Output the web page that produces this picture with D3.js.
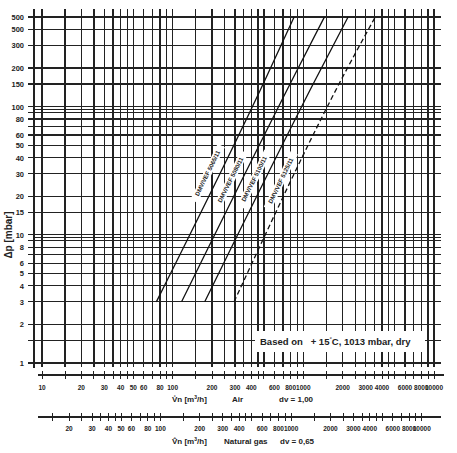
<!DOCTYPE html>
<html>
<head>
<meta charset="UTF-8">
<script src="https://d3js.org/d3.v7.min.js"></script>
<style>
  body { margin: 0; background: #fff; }
  text { font-family: Arial, "Liberation Sans", sans-serif; font-weight: bold; fill: #222; }
</style>
</head>
<body>
<script>
// pressure-drop curves (air, m3/h vs mbar)
const valveNames = ["DMV/VEF 5065/11", "DMV/VEF 5080/11", "DMV/VEF 5100/11", "DMV/VEF 5125/11"];
const valveFlows = [[75, 510, 850], [117, 822, 1450], [176, 1236, 2200], [295, 1950, 3550]];
const valveDp = [[3, 162, 500], [3, 162, 500], [3, 162, 500], [3, 162, 500]];
const dashed = [false, false, false, true];
const labelAt = [220, 330, 500, 800]; // flow where label sits

const yTickLabels = [1, 2, 3, 4, 5, 6, 8, 10, 15, 20, 30, 40, 50, 60, 80, 100, 150, 200, 300, 400, 500];
const yTickText = v => v === 400 ? "500" : String(v);
const airTickLabels = [10, 20, 30, 40, 50, 60, 80, 100, 200, 300, 400, 600, 800, 1000, 2000, 3000, 4000, 6000, 8000, 10000];
const gasTickLabels = [20, 30, 40, 50, 60, 80, 100, 200, 300, 400, 600, 800, 1000, 2000, 3000, 4000, 6000, 8000, 10000];
const mult = [1, 1.5, 2, 2.5, 3, 3.5, 4, 4.5, 5, 6, 7, 8, 9];
const yMult = [1, 1.5, 2, 3, 4, 5, 6, 7, 8, 9];
const gasFactor = Math.sqrt(0.65);

const W = 457, H = 453;
const svg = d3.select("body").append("svg").attr("width", W).attr("height", H);

const x = d3.scaleLog().domain([10, 10000]).range([42, 434]);
const y = d3.scaleLog().domain([1, 500]).range([363, 17]);
const plotTop = 9, plotLeft = 34, plotRight = 441;

const g = svg.append("g").attr("stroke", "#222").attr("shape-rendering", "crispEdges");

// vertical grid
const xGrid = [];
[10, 100, 1000].forEach(d => mult.forEach(m => xGrid.push(d * m)));
xGrid.push(10000);
g.selectAll(".vx").data(xGrid).join("line")
  .attr("x1", d => x(d)).attr("x2", d => x(d))
  .attr("y1", plotTop).attr("y2", 367).attr("stroke-width", 1.2);

// horizontal grid
const yGrid = [];
[1, 10, 100].forEach(d => yMult.forEach(m => yGrid.push(d * m)));
yGrid.push(500);
g.selectAll(".hy").data(yGrid.filter(d => d <= 500)).join("line")
  .attr("x1", plotLeft - 6).attr("x2", plotRight)
  .attr("y1", d => y(d)).attr("y2", d => y(d)).attr("stroke-width", 1.2);
g.selectAll(".hd").data([10, 100]).join("line")
  .attr("x1", plotLeft).attr("x2", plotRight)
  .attr("y1", d => y(d) + 2.5).attr("y2", d => y(d) + 2.5).attr("stroke-width", 1);

// left axis line
g.append("line").attr("x1", plotLeft).attr("x2", plotLeft).attr("y1", plotTop).attr("y2", 368).attr("stroke-width", 2);
svg.selectAll(".yl").data(yTickLabels).join("text")
  .attr("x", 24).attr("y", d => y(d) + 3).attr("text-anchor", "end")
  .attr("font-size", 7.5).text(yTickText);
svg.append("text").attr("transform", "translate(12,235) rotate(-90)")
  .attr("text-anchor", "middle").attr("font-size", 10).attr("font-weight", "normal").text("Δp [mbar]");

// air axis
const airY = 375;
g.append("line").attr("x1", 38).attr("x2", 444).attr("y1", airY).attr("y2", airY).attr("stroke-width", 1.5);
g.selectAll(".at").data(xGrid).join("line")
  .attr("x1", d => x(d)).attr("x2", d => x(d)).attr("y1", airY - 4).attr("y2", airY + 4);
svg.selectAll(".al").data(airTickLabels).join("text")
  .attr("x", d => x(d)).attr("y", 390).attr("text-anchor", "middle").attr("font-size", 6.5).text(d => d);
svg.append("text").attr("x", 172).attr("y", 402).attr("font-size", 8)
  .html('V̊n [m<tspan dy="-3" font-size="5">3</tspan><tspan dy="3">/h]</tspan>');
svg.append("text").attr("x", 232).attr("y", 402).attr("font-size", 8).text("Air");
svg.append("text").attr("x", 279).attr("y", 402).attr("font-size", 8).text("dv = 1,00");

// natural gas axis
const gasY = 417;
const xg = d => x(d * gasFactor);
const gasTicks = xGrid.filter(d => d >= 15 && d <= 10000);
g.append("line").attr("x1", 38).attr("x2", 441).attr("y1", gasY).attr("y2", gasY).attr("stroke-width", 1.5);
g.selectAll(".gt").data(gasTicks).join("line")
  .attr("x1", d => xg(d)).attr("x2", d => xg(d)).attr("y1", gasY - 4).attr("y2", gasY + 4);
svg.selectAll(".gl").data(gasTickLabels).join("text")
  .attr("x", d => xg(d)).attr("y", 431).attr("text-anchor", "middle").attr("font-size", 6.5).text(d => d);
svg.append("text").attr("x", 172).attr("y", 444).attr("font-size", 8)
  .html('V̂n [m<tspan dy="-3" font-size="5">3</tspan><tspan dy="3">/h]</tspan>');
svg.append("text").attr("x", 224).attr("y", 444).attr("font-size", 8).text("Natural gas");
svg.append("text").attr("x", 280).attr("y", 444).attr("font-size", 8).text("dv = 0,65");

// curves
const line = d3.line().x(d => x(d[0])).y(d => y(d[1])).curve(d3.curveMonotoneX);
valveNames.forEach((name, i) => {
  const pts = valveFlows[i].map((f, j) => [f, valveDp[i][j]]);
  svg.append("path").attr("d", line(pts)).attr("fill", "none").attr("stroke", "#111")
    .attr("stroke-width", 1.3).attr("stroke-dasharray", dashed[i] ? "5,3" : null);

  // label parallel to curve, left of it
  const f = labelAt[i];
  const p = pts[0], q = pts[1];
  const k = Math.log(q[1] / p[1]) / Math.log(q[0] / p[0]);
  const dp = p[1] * Math.pow(f / p[0], k);
  const px = x(f), py = y(dp);
  const ang = Math.atan2(y(q[1]) - y(p[1]), x(q[0]) - x(p[0])) * 180 / Math.PI;
  const lg = svg.append("g").attr("transform", `translate(${px - 8},${py - 3}) rotate(${ang})`);
  lg.append("rect").attr("x", -31).attr("y", -6).attr("width", 62).attr("height", 8).attr("fill", "#fff");
  lg.append("text").attr("text-anchor", "middle").attr("font-size", 6).attr("font-weight", "normal").text(name);
});

// note box
svg.append("rect").attr("x", 255).attr("y", 331).attr("width", 170).attr("height", 21).attr("fill", "#fff");
svg.append("text").attr("x", 260).attr("y", 345).attr("font-size", 9.5)
  .html('Based on &#160;&#160;+ 15<tspan dy="-4" font-size="6">°</tspan><tspan dy="4">C, 1013 mbar, dry</tspan>');
</script>
</body>
</html>
